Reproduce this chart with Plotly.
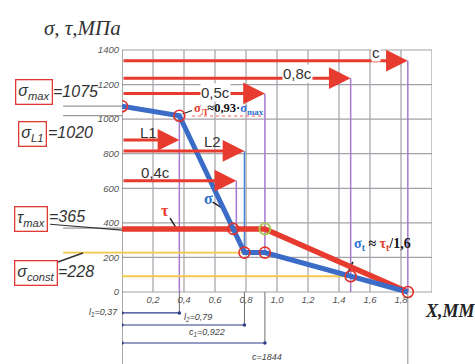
import numpy as np
import plotly.graph_objects as go

# Characteristic lengths along the contact, mm
l1 = 0.37
l2 = 0.79
c1 = 0.922
c = 1.844

# Characteristic stresses, MPa
sigma_max = 1075
sigma_l1 = 1020
tau_max = 365
sigma_const = 228

# Normal stress sigma(x) and shear stress tau(x)
sigma_x = [0, l1, l2, c1, c]
sigma_y = [sigma_max, sigma_l1, sigma_const, sigma_const, 0]
tau_x = [0, c1, c]
tau_y = [tau_max, tau_max, 0]

# Horizontal length arrows: name, end point, level (MPa)
arrow_names = ["c", "0,8c", "0,5c", "L1", "L2", "0,4c"]
arrow_ends = [c, 0.8 * c, 0.5 * c, l1, l2, 0.4 * c]
arrow_levels = [1338, 1237, 1149, 880, 816, 644]

# Axis ticks
x_ticks = [0.2, 0.4, 0.6, 0.8, 1.0, 1.2, 1.4, 1.6, 1.8]
x_tick_text = ["0,2", "0,4", "0,6", "0,8", "1,0", "1,2", "1,4", "1,6", "1,8"]
y_ticks = [0, 200, 400, 600, 800, 1000, 1200, 1400]
y_tick_text = ["0", "200", "400", "600", "800", "1000", "1200", "1400"]
grid_x = [0.2, 0.4, 0.6, 0.8, 1.0, 1.2, 1.4, 1.6, 1.8, 2.0]

# Dimension lines under the axis: length, level
dim_lengths = [l1, l2, c1]
dim_levels = [-121, -191, -295]

RED = "#e63b2e"
BLUE = "#3b6cc7"
PURPLE = "#a57ad0"
YELLOW = "#f3c84a"
GRID = "#a5a0a8"
NAVY = "#2c3a8a"

# derived points
x_cross = l1 + (sigma_l1 - tau_max) / (sigma_l1 - sigma_const) * (l2 - l1)
sig_08c = float(np.interp(0.8 * c, sigma_x, sigma_y))

Y_MIN, Y_MAX = -416.5, 1689.3
X_MIN, X_MAX = 0, 2.0

fig = go.Figure()

shapes = []

def seg(x0, y0, x1, y1, color, width=1.0, xref="x", yref="y", dash="solid"):
    shapes.append(dict(type="line", x0=x0, y0=y0, x1=x1, y1=y1, xref=xref, yref=yref,
                       line=dict(color=color, width=width, dash=dash), layer="below"))

# grid
for gx in grid_x:
    seg(gx, 0, gx, 1400, GRID, 1.2)
for gy in y_ticks:
    seg(0, gy, 2.0, gy, GRID, 1.2)
# left axis line running down to the dimension area
seg(0, Y_MIN, 0, 1400, "#6e6e6e", 1.2)

# vertical markers at characteristic lengths
seg(l1, sigma_l1, l1, 0, PURPLE, 1.5)
seg(l1, 0, l1, dim_levels[0], "#6e6e6e", 1)
seg(l2, arrow_levels[4], l2, sigma_const, "#4a86d8", 1.5)
seg(l2, 0, l2, dim_levels[1], "#6e6e6e", 1)
seg(0.4 * c, arrow_levels[5], 0.4 * c, tau_max, PURPLE, 1.5)
seg(0.5 * c, arrow_levels[2], 0.5 * c, sigma_const, PURPLE, 1.5)
seg(0.5 * c, 0, 0.5 * c, dim_levels[2], "#6e6e6e", 1)
seg(0.8 * c, arrow_levels[1], 0.8 * c, 0, PURPLE, 1.5)
seg(c, arrow_levels[0], c, 0, PURPLE, 1.5)
seg(c, 0, c, Y_MIN, "#8a8a8a", 1)

# leader lines for the stress labels on the left
seg(-0.19, sigma_max, 0, sigma_max, "#9a9a9a", 1.2, xref="paper")
seg(-0.19, sigma_l1, 0, sigma_l1, "#9a9a9a", 1.2, xref="paper")
seg(-0.19, tau_max + 5, 0, tau_max + 5, "#9a9a9a", 1.2, xref="paper")
seg(-0.232, 392, 0, 358, "#333333", 1.2, xref="paper")
seg(-0.19, sigma_const, 0, sigma_const, YELLOW, 1.8, xref="paper")
seg(0, sigma_const, l2, sigma_const, YELLOW, 1.8)
seg(-0.216, 168, -0.126, 226, "#333333", 1.5, xref="paper")
seg(0, sig_08c, 0.8 * c, sig_08c, YELLOW, 1.8)

# dimension lines
for L, lev in zip(dim_lengths, dim_levels):
    seg(0, lev, L, lev, NAVY, 1.2)

# small leaders to the curve labels
seg(0.39, 1030, 0.452, 1050, "#222222", 1.2)
seg(0.585, 520, 0.66, 478, "#222222", 1.5)
seg(0.31, 428, 0.355, 362, "#222222", 1.5)
seg(1.49, 174, 1.458, 112, "#222222", 1.5)
seg(0.452, 1018, 0.905, 1018, RED, 0.8, dash="dot")

fig.update_layout(shapes=shapes)

# stress curves
fig.add_trace(go.Scatter(x=tau_x, y=tau_y, mode="lines",
                         line=dict(color=RED, width=5.5), hoverinfo="skip"))
fig.add_trace(go.Scatter(x=sigma_x, y=sigma_y, mode="lines",
                         line=dict(color=BLUE, width=5), hoverinfo="skip"))

# dimension line end dots
fig.add_trace(go.Scatter(x=[0] * 3 + dim_lengths, y=dim_levels + dim_levels, mode="markers",
                         marker=dict(color=NAVY, size=3.5), hoverinfo="skip"))

# characteristic points
pt_x = [0, l1, x_cross, l2, c1, 0.8 * c, c]
pt_y = [sigma_max, sigma_l1, tau_max, sigma_const, sigma_const, sig_08c, 0]
fig.add_trace(go.Scatter(x=pt_x, y=pt_y, mode="markers",
                         marker=dict(symbol="circle-open", size=11, color="#e0342c",
                                     line=dict(width=1.6)), hoverinfo="skip"))
fig.add_trace(go.Scatter(x=[c1], y=[tau_max], mode="markers",
                         marker=dict(symbol="circle-open", size=11, color="#a6c84a",
                                     line=dict(width=1.8)), hoverinfo="skip"))

annotations = []

# length arrows
for name, xe, lev in zip(arrow_names, arrow_ends, arrow_levels):
    annotations.append(dict(x=xe, y=lev, ax=0, ay=lev, xref="x", yref="y", axref="x", ayref="y",
                            text="", showarrow=True, arrowhead=2, arrowsize=1.45,
                            arrowwidth=3, arrowcolor=RED, standoff=0))

label_font = dict(family="Liberation Sans, Arial", size=15, color="#333333")
arrow_label_pos = {"c": (1.639, 1386), "0,8c": (1.129, 1266), "0,5c": (0.60, 1157),
                   "L1": (0.168, 922), "L2": (0.581, 873), "0,4c": (0.219, 694)}
for name in arrow_names:
    x, y = arrow_label_pos[name]
    white = name in ("c", "0,8c", "0,5c")
    annotations.append(dict(x=x, y=y, xref="x", yref="y", text=name, showarrow=False,
                            font=label_font, bgcolor="white" if white else None,
                            borderpad=0))

# left-hand stress labels
left_font = dict(family="Liberation Sans", size=16, color="#333333", style="italic")
box_labels = [
    ("σ<sub>max</sub>", -0.284, 1157, "=" + str(sigma_max), -0.229, 1162),
    ("σ<sub>L1</sub>", -0.29, 917, "=" + str(sigma_l1), -0.245, 920),
    ("τ<sub>max</sub>", -0.294, 422, "=" + str(tau_max), -0.242, 434),
    ("σ<sub>const</sub>", -0.279, 110, "=" + str(sigma_const), -0.213, 121),
]
for sym, bx, by, val, vx, vy in box_labels:
    annotations.append(dict(x=bx, y=by, xref="paper", yref="y", text=sym, showarrow=False,
                            xanchor="center", font=left_font, bordercolor="#e03a35",
                            borderwidth=1.3, borderpad=2, bgcolor="white"))
    annotations.append(dict(x=vx, y=vy, xref="paper", yref="y", text=val, showarrow=False,
                            xanchor="left", font=left_font))

# axis titles
annotations.append(dict(x=-0.129, y=1527, xref="paper", yref="y", text="σ, τ,МПа",
                        showarrow=False, xanchor="center",
                        font=dict(family="Liberation Serif", size=21, color="#333333",
                                  style="italic")))
annotations.append(dict(x=1.061, y=-112, xref="paper", yref="y", text="X,ММ",
                        showarrow=False, xanchor="center",
                        font=dict(family="Liberation Serif", size=18, color="#222222",
                                  style="italic", weight="bold")))

# curve labels
serif_b = dict(family="Liberation Serif", size=12.5, color="#111111", weight="bold")
annotations.append(dict(x=0.452, y=1057, xref="x", yref="y", xanchor="left", showarrow=False,
                        text=f"<span style='color:{RED}'>σ<sub>Л</sub></span>≈0,93·"
                             f"<span style='color:#2f6fd0'>σ<sub>max</sub></span>",
                        font=serif_b))
annotations.append(dict(x=0.555, y=543, xref="x", yref="y", showarrow=False, text="σ",
                        font=dict(family="Liberation Serif", size=16, color="#2f6fd0",
                                  weight="bold")))
annotations.append(dict(x=0.277, y=474, xref="x", yref="y", showarrow=False, text="τ",
                        font=dict(family="Liberation Serif", size=16, color=RED,
                                  weight="bold")))
annotations.append(dict(x=1.484, y=272, xref="x", yref="y", xanchor="left", showarrow=False,
                        text=f"<span style='color:#2f6fd0'>σ<sub>t</sub></span> ≈ "
                             f"<span style='color:{RED}'>τ<sub>t</sub></span>/1,6",
                        font=dict(family="Liberation Serif", size=14, color="#111111",
                                  weight="bold")))

# dimension labels
dim_font = dict(family="Liberation Sans", size=9, color="#444444", style="italic")
annotations.append(dict(x=-0.006, y=-116, xref="paper", yref="y", xanchor="right",
                        showarrow=False, text=f"l<sub>1</sub>={str(l1).replace('.', ',')}",
                        font=dim_font))
annotations.append(dict(x=0.387, y=-150, xref="x", yref="y", xanchor="left",
                        showarrow=False, text=f"l<sub>2</sub>={str(l2).replace('.', ',')}",
                        font=dim_font))
annotations.append(dict(x=0.419, y=-237, xref="x", yref="y", xanchor="left",
                        showarrow=False, text=f"c<sub>1</sub>={str(c1).replace('.', ',')}",
                        font=dim_font))
annotations.append(dict(x=0.826, y=-376, xref="x", yref="y", xanchor="left",
                        showarrow=False, text="c=" + str(c).replace("1.", "1"),
                        font=dim_font))

fig.update_layout(annotations=annotations)

tick_font = dict(family="Liberation Sans", size=9.5, color="#555555", style="italic")
fig.update_layout(
    width=475, height=364,
    margin=dict(l=122, r=43, t=0, b=0),
    paper_bgcolor="white", plot_bgcolor="white",
    showlegend=False,
    xaxis=dict(range=[X_MIN, X_MAX], showgrid=False, zeroline=False, showline=False,
               tickvals=x_ticks, ticktext=x_tick_text, ticks="", tickfont=tick_font,
               anchor="free", position=-Y_MIN / (Y_MAX - Y_MIN)),
    yaxis=dict(range=[Y_MIN, Y_MAX], showgrid=False, zeroline=False, showline=False,
               tickvals=y_ticks, ticktext=y_tick_text, ticks="", tickfont=tick_font,
               ticklabelstandoff=2),
)

fig.write_html("out.html")
